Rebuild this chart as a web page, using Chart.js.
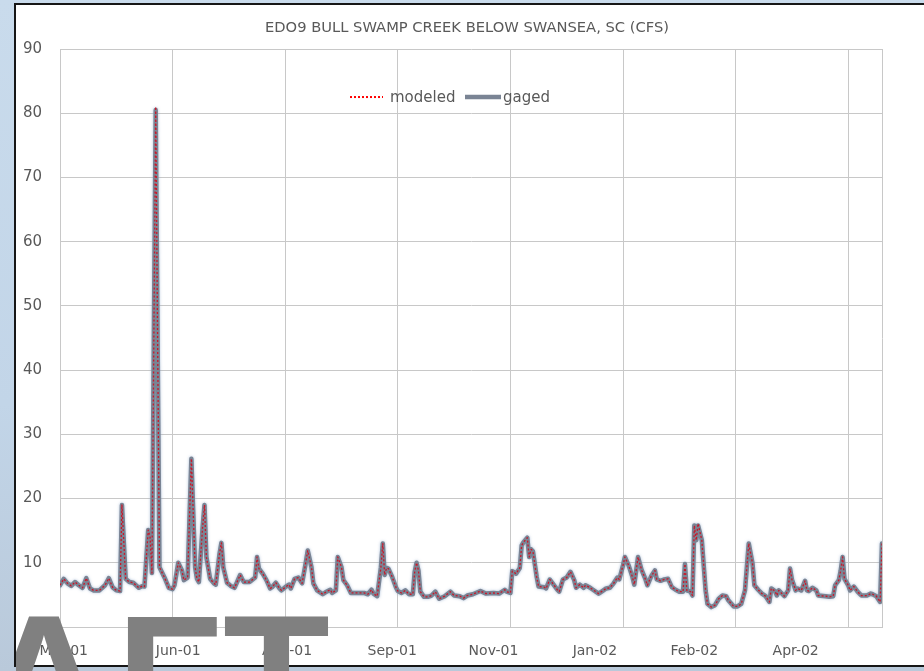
<!DOCTYPE html>
<html>
<head>
<meta charset="utf-8">
<script src="https://cdn.jsdelivr.net/npm/chart.js@4.4.1/dist/chart.umd.min.js"></script>
<style>
  html, body { margin: 0; padding: 0; width: 924px; height: 671px; overflow: hidden; }
  body { background: linear-gradient(180deg, #c9dbec 0%, #c2d5e8 60%, #b9c9da 100%); position: relative; }
  #frame { position: absolute; left: 14px; top: 3px; width: 1000px; height: 660px; border: 2px solid #161616; background: #fff; }
  #chart { position: absolute; left: 0; top: 0; z-index: 2; }
  #clip { position: absolute; left: 16px; top: 0; width: 908px; height: 671px; overflow: hidden; z-index: 3; pointer-events: none; }
  #draft { position: absolute; left: -288px; top: 589px; font: bold 175px "Liberation Sans", Arial, sans-serif; line-height: 175px; color: #808080; white-space: nowrap; }
  #draft .ft { margin-left: 9px; }
</style>
</head>
<body>
<div id="frame"></div>
<canvas id="chart" width="934" height="671"></canvas>
<div id="clip"><div id="draft">DRA<span class="ft">FT</span></div></div>
<script>
// days since start of record
const days = [0, 2, 4, 6, 8, 10, 12, 14, 16, 18, 21, 24, 26, 28, 30, 32, 33, 35, 37, 39,
  42, 44, 45, 47, 48, 49, 51, 53, 56, 58, 60, 61, 63, 65, 66, 68, 70, 72, 73, 74,
  76, 77, 78, 80, 82, 83, 85, 86, 87, 89, 91, 93, 96, 97, 98, 101, 104, 105, 106, 108,
  110, 112, 113, 115, 117, 118, 120, 122, 123, 125, 127, 129, 131, 132, 134, 135, 137, 140, 142, 144,
  145, 147, 148, 150, 151, 153, 155, 158, 162, 164, 166, 167, 169, 171, 172, 173, 174, 175, 177, 179,
  180, 182, 184, 186, 188, 189, 190, 191, 192, 194, 196, 198, 200, 202, 205, 208, 210, 213, 215, 217,
  220, 224, 227, 231, 234, 237, 238, 240, 241, 243, 245, 246, 247, 249, 250, 251, 252, 254, 255, 258,
  259, 261, 263, 265, 266, 268, 270, 272, 274, 275, 277, 279, 280, 282, 284, 287, 289, 291, 293, 295,
  297, 298, 300, 301, 303, 305, 306, 308, 310, 312, 313, 315, 317, 318, 320, 322, 324, 326, 328, 330,
  332, 333, 334, 336, 337, 338, 339, 340, 342, 344, 345, 347, 349, 351, 353, 355, 356, 359, 361, 363,
  365, 367, 369, 370, 372, 374, 376, 378, 379, 381, 382, 383, 385, 386, 388, 389, 390, 392, 393, 395,
  397, 398, 399, 401, 403, 404, 408, 410, 412, 413, 415, 416, 417, 418, 420, 421, 423, 425, 427, 430,
  432, 433, 435, 437, 438];

const gaged = [6.5, 7.5, 6.8, 6.4, 7.0, 6.5, 6.1, 7.6, 6.0, 5.7, 5.7, 6.5, 7.6, 6.2, 5.7, 5.6, 19.0, 7.5, 7.0, 6.9,
  6.1, 6.4, 6.3, 15.1, 14.0, 8.4, 80.5, 9.3, 7.5, 6.1, 5.9, 6.5, 10.0, 8.8, 7.3, 7.7, 26.2, 9.3, 7.5, 7.0,
  15.6, 19.0, 10.9, 7.5, 6.8, 6.6, 11.4, 13.1, 9.3, 6.9, 6.4, 6.1, 8.1, 7.5, 7.0, 7.0, 7.7, 10.9, 9.1, 8.3,
  7.3, 6.0, 6.2, 6.9, 6.0, 5.7, 6.2, 6.6, 6.0, 7.5, 7.7, 6.8, 10.1, 11.9, 9.3, 6.8, 5.7, 5.1, 5.5, 5.8,
  5.3, 5.7, 10.9, 9.3, 7.3, 6.5, 5.3, 5.3, 5.3, 5.1, 5.8, 5.2, 4.8, 9.3, 13.0, 8.1, 9.2, 9.1, 7.8, 6.2,
  5.6, 5.3, 5.7, 5.1, 5.1, 8.6, 10.0, 8.8, 5.5, 4.7, 4.7, 4.9, 5.5, 4.4, 4.8, 5.5, 4.9, 4.8, 4.5, 4.9,
  5.1, 5.6, 5.2, 5.3, 5.2, 5.8, 5.5, 5.3, 8.7, 8.3, 9.2, 12.7, 13.2, 13.9, 10.9, 12.1, 11.8, 7.8, 6.3, 6.2,
  6.0, 7.4, 6.6, 5.8, 5.5, 7.4, 7.7, 8.6, 7.3, 6.1, 6.6, 6.1, 6.5, 6.2, 5.8, 5.2, 5.6, 6.0, 6.1, 6.8,
  7.7, 7.4, 9.6, 10.9, 9.6, 7.8, 6.6, 10.9, 8.8, 7.4, 6.5, 7.9, 8.8, 7.4, 7.2, 7.4, 7.5, 6.2, 5.8, 5.5,
  5.5, 9.8, 5.7, 5.5, 4.9, 15.8, 13.5, 15.8, 13.5, 5.7, 3.6, 3.1, 3.4, 4.4, 4.9, 4.8, 4.2, 3.2, 3.2, 3.6,
  5.7, 13.0, 9.9, 6.5, 5.8, 5.2, 4.8, 3.9, 6.0, 5.6, 4.9, 5.7, 5.1, 4.8, 5.7, 9.1, 7.4, 5.7, 6.0, 5.7,
  7.2, 5.7, 5.6, 6.1, 5.7, 4.9, 4.8, 4.7, 4.8, 6.5, 7.3, 8.8, 10.9, 7.5, 6.5, 5.7, 6.3, 5.5, 4.9, 4.9,
  5.2, 5.1, 4.8, 3.9, 13.0];

const modeled = [6.5, 7.5, 6.8, 6.4, 7.0, 6.5, 6.1, 7.6, 6.0, 5.7, 5.7, 6.5, 7.6, 6.2, 5.7, 5.6, 19.0, 7.5, 7.0, 6.9,
  6.1, 6.4, 6.3, 15.1, 14.0, 8.4, 81.0, 9.3, 7.5, 6.1, 5.9, 6.5, 10.0, 8.8, 7.3, 7.7, 26.2, 9.3, 7.5, 7.0,
  15.6, 19.0, 10.9, 7.5, 6.8, 6.6, 11.4, 13.1, 9.3, 6.9, 6.4, 6.1, 8.1, 7.5, 7.0, 7.0, 7.7, 10.9, 9.1, 8.3,
  7.3, 6.0, 6.2, 6.9, 6.0, 5.7, 6.2, 6.6, 6.0, 7.5, 7.7, 6.8, 10.1, 11.9, 9.3, 6.8, 5.7, 5.1, 5.5, 5.8,
  5.3, 5.7, 10.9, 9.3, 7.3, 6.5, 5.3, 5.3, 5.3, 5.1, 5.8, 5.2, 4.8, 9.3, 13.0, 8.1, 9.2, 9.1, 7.8, 6.2,
  5.6, 5.3, 5.7, 5.1, 5.1, 8.6, 10.0, 8.8, 5.5, 4.7, 4.7, 4.9, 5.5, 4.4, 4.8, 5.5, 4.9, 4.8, 4.5, 4.9,
  5.1, 5.6, 5.2, 5.3, 5.2, 5.8, 5.5, 5.3, 8.7, 8.3, 9.2, 12.7, 13.2, 13.9, 10.9, 12.1, 11.8, 7.8, 6.3, 6.2,
  6.0, 7.4, 6.6, 5.8, 5.5, 7.4, 7.7, 8.6, 7.3, 6.1, 6.6, 6.1, 6.5, 6.2, 5.8, 5.2, 5.6, 6.0, 6.1, 6.8,
  7.7, 7.4, 9.6, 10.9, 9.6, 7.8, 6.6, 10.9, 8.8, 7.4, 6.5, 7.9, 8.8, 7.4, 7.2, 7.4, 7.5, 6.2, 5.8, 5.5,
  5.5, 9.8, 5.7, 5.5, 4.9, 15.8, 13.5, 16.1, 13.5, 5.7, 3.6, 3.1, 3.4, 4.4, 4.9, 4.8, 4.2, 3.2, 3.2, 3.6,
  5.7, 13.0, 9.9, 6.5, 5.8, 5.2, 4.8, 3.9, 6.0, 5.6, 4.9, 5.7, 5.1, 4.8, 5.7, 9.1, 7.4, 5.7, 6.0, 5.7,
  7.2, 5.7, 5.6, 6.1, 5.7, 4.9, 4.8, 4.7, 4.8, 6.5, 7.3, 8.8, 10.9, 7.5, 6.5, 5.7, 6.3, 5.5, 4.9, 4.9,
  5.2, 5.1, 4.8, 3.9, 13.0];

const xTickDays = [2, 63, 121, 177, 231, 285, 338, 392];
const xTickLabels = ['Mar-01', 'Jun-01', 'Aug-01', 'Sep-01', 'Nov-01', 'Jan-02', 'Feb-02', 'Apr-02'];
const lastDay = 438;
const gridStep = 60;
const yMax = 90;
const yStep = 10;

const textColor = '#595959';
const gridColor = '#c8c8c8';
const fontFamily = '"DejaVu Sans", sans-serif';
const modeledColor = '#ff0000';
const gagedColor = '#7a8494';

const toPoints = vals => vals.map((v, i) => ({ x: days[i], y: v }));

const gridDays = [];
for (let d = 0; d < lastDay; d += gridStep) gridDays.push(d);

// soft bluish edge round the gaged line
const gagedGlow = {
  id: 'gagedGlow',
  beforeDatasetDraw(chart, args) {
    if (args.index !== 1) return;
    chart.ctx.save();
    chart.ctx.shadowColor = 'rgba(140, 165, 200, 0.7)';
    chart.ctx.shadowBlur = 3;
  },
  afterDatasetDraw(chart, args) {
    if (args.index !== 1) return;
    chart.ctx.restore();
  }
};

// legend drawn inside the plot, the way the sheet had it
const insideLegend = {
  id: 'insideLegend',
  afterDraw(chart) {
    const ctx = chart.ctx;
    const area = chart.chartArea;
    const sets = chart.data.datasets;
    const x0 = area.left + 290;
    const y = area.top + 48;
    ctx.save();
    ctx.font = '15px ' + fontFamily;
    ctx.fillStyle = textColor;
    ctx.textBaseline = 'alphabetic';

    ctx.strokeStyle = modeledColor;
    ctx.lineWidth = 2;
    ctx.setLineDash([2, 2]);
    ctx.beginPath();
    ctx.moveTo(x0, y);
    ctx.lineTo(x0 + 33, y);
    ctx.stroke();
    ctx.fillText(sets[0].label, x0 + 40, y + 4.5);

    ctx.setLineDash([]);
    ctx.strokeStyle = gagedColor;
    ctx.lineWidth = 4.5;
    ctx.beginPath();
    ctx.moveTo(x0 + 115, y);
    ctx.lineTo(x0 + 151, y);
    ctx.stroke();
    ctx.fillText(sets[1].label, x0 + 153, y + 4.5);
    ctx.restore();
  }
};

const ctx = document.getElementById('chart').getContext('2d');
new Chart(ctx, {
  type: 'line',
  data: {
    datasets: [
      { label: 'modeled', data: toPoints(modeled), borderColor: '#c8182a', borderWidth: 1.3,
        borderDash: [2, 2], borderJoinStyle: 'round', pointRadius: 0, tension: 0 },
      { label: 'gaged', data: toPoints(gaged), borderColor: gagedColor, borderWidth: 4.5,
        borderJoinStyle: 'round', borderCapStyle: 'round', pointRadius: 0, tension: 0 }
    ]
  },
  options: {
    responsive: false,
    animation: false,
    layout: { padding: 0 },
    plugins: {
      legend: { display: false },
      tooltip: { enabled: false },
      title: {
        display: true,
        text: 'EDO9 BULL SWAMP CREEK BELOW SWANSEA, SC (CFS)',
        color: textColor,
        font: { family: fontFamily, size: 14.7, weight: 'normal' },
        padding: { top: 19, bottom: 12.4 }
      }
    },
    scales: {
      x: {
        type: 'linear', min: 0, max: lastDay,
        afterBuildTicks: s => { s.ticks = gridDays.map(v => ({ value: v })); },
        ticks: { display: false },
        grid: { color: gridColor, drawTicks: false },
        border: { color: gridColor },
        afterFit: s => { s.height = 0; }
      },
      x2: {
        type: 'linear', position: 'bottom', min: 0, max: lastDay,
        afterBuildTicks: s => { s.ticks = xTickDays.map(v => ({ value: v })); },
        ticks: {
          autoSkip: false, maxRotation: 0, padding: 16, color: textColor,
          font: { family: fontFamily, size: 14 },
          callback: (v, i) => xTickLabels[i]
        },
        grid: { display: false, drawTicks: false },
        border: { display: false },
        afterFit: s => { s.height = 44; }
      },
      y: {
        min: 0, max: yMax,
        ticks: { stepSize: yStep, padding: 18, color: textColor, font: { family: fontFamily, size: 15 } },
        grid: { color: gridColor, drawTicks: false },
        border: { color: gridColor },
        afterFit: s => { s.width = 60; }
      },
      yr: {
        position: 'right', min: 0, max: yMax,
        ticks: { display: false },
        grid: { display: false, drawTicks: false },
        border: { color: gridColor },
        afterFit: s => { s.width = 52; }
      }
    }
  },
  plugins: [gagedGlow, insideLegend]
});
</script>
</body>
</html>
